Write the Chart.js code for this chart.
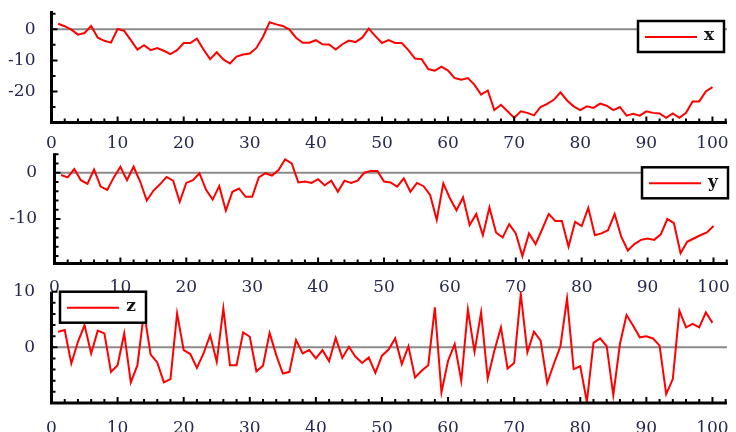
<!DOCTYPE html>
<html>
<head>
<meta charset="utf-8">
<script src="https://cdn.jsdelivr.net/npm/chart.js@4.4.1/dist/chart.umd.min.js"></script>
<style>
  body { margin: 0; background: #fff; }
  #wrap { position: relative; width: 736px; height: 432px; overflow: hidden; }
  canvas { position: absolute; left: 0; }
</style>
</head>
<body>
<div id="wrap">
  <canvas id="c1" width="736" height="150" style="top:0px"></canvas>
  <canvas id="c2" width="736" height="150" style="top:145px"></canvas>
  <canvas id="c3" width="736" height="157" style="top:275px"></canvas>
</div>

<script>
// data, step 1..100
var xSeries = [1.8, 1.0, -0.1, -1.7, -1.2, 1.1, -2.7, -3.7, -4.3, 0.1,
    -0.5, -3.5, -6.5, -5.1, -6.7, -6.0, -6.9, -8.0, -6.7, -4.4,
    -4.4, -3.0, -6.5, -9.6, -7.4, -9.7, -11.0, -8.8, -8.1, -7.8,
    -6.0, -2.4, 2.3, 1.6, 1.1, -0.1, -2.7, -4.3, -4.3, -3.5,
    -4.8, -4.9, -6.5, -4.8, -3.6, -4.1, -2.7, 0.2, -2.2, -4.4,
    -3.5, -4.4, -4.4, -6.7, -9.4, -9.6, -12.8, -13.3, -12.0, -13.3,
    -15.7, -16.2, -15.7, -17.9, -21.0, -19.7, -26.0, -24.3, -26.4, -28.5,
    -26.4, -26.9, -27.7, -25.0, -24.0, -22.7, -20.3, -22.9, -24.8, -26.0,
    -24.8, -25.3, -23.9, -24.6, -26.0, -25.0, -27.8, -27.2, -27.8, -26.4,
    -26.9, -27.1, -28.5, -27.1, -28.5, -26.9, -23.2, -23.2, -20.0, -18.6];

var ySeries = [-0.5, -1.0, 0.8, -1.6, -2.4, 0.7, -3.0, -3.7, -1.0, 1.3,
    -1.6, 1.3, -1.9, -6.0, -3.9, -2.5, -0.9, -1.7, -6.3, -2.2,
    -1.6, -0.1, -3.7, -5.8, -2.9, -8.2, -4.1, -3.4, -5.2, -5.2,
    -1.0, -0.1, -0.6, 0.6, 2.9, 2.0, -2.1, -1.9, -2.2, -1.4,
    -2.7, -1.7, -4.1, -1.7, -2.2, -1.7, 0.0, 0.4, 0.4, -1.9,
    -2.1, -3.0, -1.2, -4.1, -2.2, -2.9, -4.8, -10.2, -2.3, -5.5,
    -8.1, -5.3, -11.3, -8.9, -13.5, -7.5, -12.9, -14.0, -11.1, -13.1,
    -18.0, -13.1, -15.4, -12.2, -8.9, -10.4, -10.4, -16.0, -10.6, -11.5,
    -7.6, -13.5, -13.1, -12.4, -8.9, -13.8, -16.8, -15.4, -14.5, -14.2,
    -14.5, -13.3, -10.0, -10.9, -17.4, -14.9, -14.2, -13.5, -12.9, -11.5];

var zSeries = [2.8, 3.1, -2.9, 1.0, 4.0, -1.1, 3.0, 2.5, -4.4, -3.2,
    2.5, -6.3, -3.2, 6.4, -1.3, -2.7, -6.3, -5.7, 6.1, -0.5,
    -1.2, -3.7, -1.1, 2.2, -2.6, 7.0, -3.2, -3.2, 2.7, 1.9,
    -4.3, -3.3, 2.6, -1.4, -4.7, -4.4, 1.3, -1.1, -0.5, -2.0,
    -0.5, -2.5, 1.7, -1.9, 0.1, -1.7, -2.8, -1.8, -4.6, -1.5,
    -0.4, 1.6, -3.0, 0.2, -5.4, -4.2, -3.2, 7.2, -8.1, -2.4,
    0.6, -6.0, 6.8, -0.8, 6.3, -5.6, -0.6, 3.6, -3.8, -2.8,
    9.6, -0.9, 2.8, 1.2, -6.4, -3.0, 0.2, 8.8, -3.9, -3.4,
    -9.8, 0.8, 1.6, 0.2, -8.6, 0.6, 5.8, 3.9, 1.8, 2.0,
    1.6, 0.3, -8.4, -5.7, 6.6, 3.6, 4.2, 3.6, 6.3, 4.4];

var xTicks = [0, 10, 20, 30, 40, 50, 60, 70, 80, 90, 100];
var yTicksX = [0, -10, -20];
var yTicksY = [0, -10];
var yTicksZ = [0, 10];

var steps = [];
for (var i = 1; i <= xSeries.length; i++) steps.push(i);

var labelFont = { family: 'DejaVu Serif', size: 17 };
var labelColor = '#262850';

// axes with inward ticks, grey zero line and the boxed legend
var framePlugin = {
    id: 'frame',
    beforeDatasetsDraw: function(chart) {
        var ctx = chart.ctx, a = chart.chartArea;
        var y0 = chart.scales.y.getPixelForValue(0);
        ctx.save();
        ctx.strokeStyle = '#8a8a8a';
        ctx.lineWidth = 2;
        ctx.beginPath();
        ctx.moveTo(a.left, y0);
        ctx.lineTo(a.right, y0);
        ctx.stroke();
        ctx.restore();
    },
    afterDatasetsDraw: function(chart, args, opts) {
        var ctx = chart.ctx, a = chart.chartArea;
        var xs = chart.scales.x, ys = chart.scales.y;
        var v, p, len;
        ctx.save();
        ctx.strokeStyle = '#000';
        ctx.lineWidth = 3;
        ctx.beginPath();
        ctx.moveTo(a.left, a.top);
        ctx.lineTo(a.left, a.bottom);
        ctx.lineTo(a.right, a.bottom);
        ctx.stroke();

        ctx.lineWidth = 2;
        ctx.beginPath();
        for (v = 2; v <= xs.max; v += 2) {
            p = xs.getPixelForValue(v);
            len = (v % 10 === 0) ? 6 : 4;
            ctx.moveTo(p, a.bottom);
            ctx.lineTo(p, a.bottom - len);
        }
        var start = Math.ceil(ys.min / opts.yMinor) * opts.yMinor;
        for (v = start; v <= ys.max; v += opts.yMinor) {
            p = ys.getPixelForValue(v);
            len = (v % 10 === 0) ? 6 : 4;
            ctx.moveTo(a.left, p);
            ctx.lineTo(a.left + len, p);
        }
        ctx.stroke();

        // legend
        var L = opts.legend;
        var bx = L.fromRight ? a.right - L.dx - 86 : a.left + L.dx;
        var by = a.top + L.dy;
        ctx.fillStyle = '#fff';
        ctx.fillRect(bx, by, 86, 31);
        ctx.lineWidth = 2.5;
        ctx.strokeStyle = '#000';
        ctx.strokeRect(bx, by, 86, 31);
        ctx.strokeStyle = '#ff0000';
        ctx.lineWidth = 2;
        ctx.beginPath();
        ctx.moveTo(bx + 7, by + 16);
        ctx.lineTo(bx + 59, by + 16);
        ctx.stroke();
        ctx.fillStyle = '#111';
        ctx.font = 'bold 17px "DejaVu Serif"';
        ctx.textBaseline = 'middle';
        ctx.textAlign = 'center';
        ctx.fillText(L.text, bx + 71, by + 15);
        ctx.restore();
    }
};

function makeChart(id, values, name, yMin, yMax, yTicks, yMinor, box, legend) {
    var points = values.map(function(v, k) { return { x: steps[k], y: v }; });
    return new Chart(document.getElementById(id), {
        type: 'line',
        data: {
            datasets: [{
                label: name,
                data: points,
                borderColor: '#ff0000',
                borderWidth: 2,
                pointRadius: 0,
                tension: 0
            }]
        },
        options: {
            responsive: false,
            animation: false,
            layout: { padding: { left: 0, right: box.right, top: box.top, bottom: 0 } },
            plugins: {
                legend: { display: false },
                tooltip: { enabled: false },
                frame: { yMinor: yMinor, legend: legend }
            },
            scales: {
                x: {
                    type: 'linear',
                    min: 0,
                    max: 102.2,
                    afterBuildTicks: function(s) { s.ticks = xTicks.map(function(t) { return { value: t }; }); },
                    afterFit: function(s) { s.height = box.xHeight; s.paddingLeft = 0; s.paddingRight = 0; },
                    grid: { display: false },
                    border: { display: false },
                    ticks: { font: labelFont, color: labelColor, padding: box.xPad, maxRotation: 0, autoSkip: false }
                },
                y: {
                    min: yMin,
                    max: yMax,
                    afterBuildTicks: function(s) { s.ticks = yTicks.map(function(t) { return { value: t }; }); },
                    afterFit: function(s) { s.width = box.left; s.paddingTop = 0; s.paddingBottom = 0; },
                    grid: { display: false },
                    border: { display: false },
                    ticks: { font: labelFont, color: labelColor, padding: box.yPad }
                }
            }
        },
        plugins: [framePlugin]
    });
}

var chartX = makeChart('c1', xSeries, 'x', -30, 5.9, yTicksX, 5,
    { left: 51.5, right: 9, top: 11, xHeight: 27.5, xPad: 3, yPad: 8 },
    { text: 'x', fromRight: true, dx: 3, dy: 10 });

var chartY = makeChart('c2', ySeries, 'y', -19.6, 4.2, yTicksY, 2,
    { left: 54.5, right: 8, top: 8.3, xHeight: 31.5, xPad: 6, yPad: 9.5 },
    { text: 'y', fromRight: true, dx: 0, dy: 14 });

var chartZ = makeChart('c3', zSeries, 'z', -10, 10, yTicksZ, 2,
    { left: 51.5, right: 9, top: 16.7, xHeight: 29, xPad: 7, yPad: 8.5 },
    { text: 'z', fromRight: false, dx: 8.5, dy: 0 });
</script>
</body>
</html>
